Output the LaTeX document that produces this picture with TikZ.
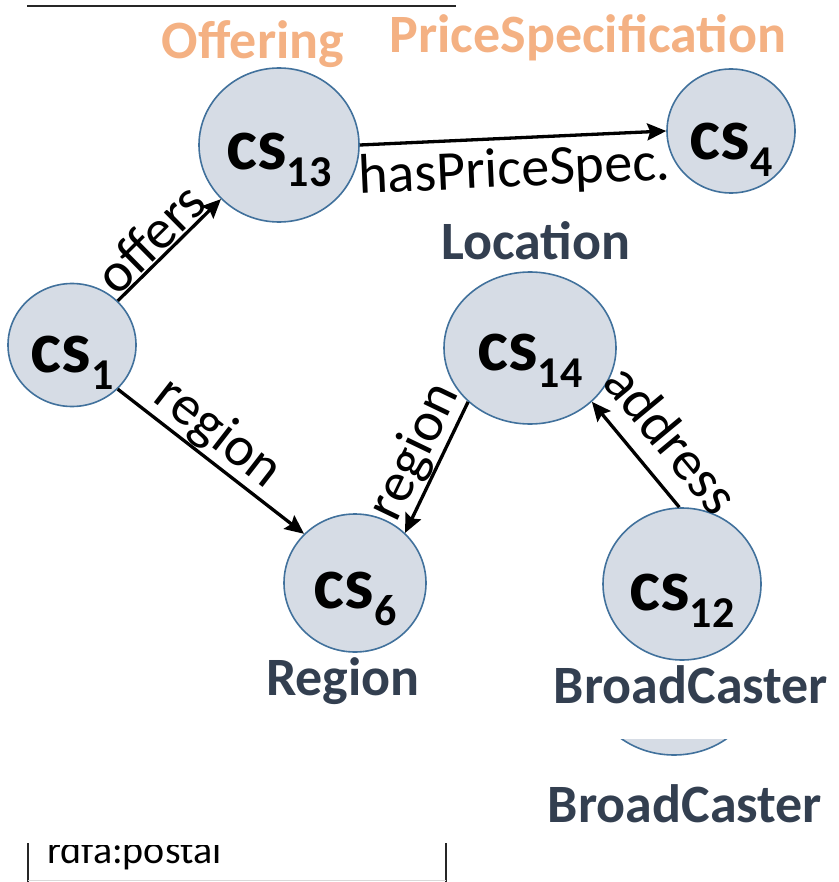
\documentclass[tikz,border=0pt]{standalone}
\usepackage{fontspec}
\setmainfont{Carlito}
\usetikzlibrary{shapes.geometric,arrows.meta}

\definecolor{nodefill}{HTML}{D6DCE5}
\definecolor{nodeline}{HTML}{41719C}
\definecolor{classorange}{HTML}{F4B183}
\definecolor{classdark}{HTML}{333F50}

\tikzset{
  csnode/.style={ellipse, draw=nodeline, line width=1.6pt, fill=nodefill, inner sep=0pt},
  cstext/.style={anchor=base, inner sep=0pt, font=\fontsize{74}{74}\selectfont\bfseries},
  classlabel/.style={anchor=base, inner sep=0pt, font=\fontsize{54}{54}\selectfont\bfseries},
  edgelabel/.style={inner sep=0pt, font=\fontsize{56}{56}\selectfont, sloped},
  rel/.style={line width=3.3pt, -{Stealth[length=19pt,width=17pt,inset=3pt]}}
}
\newcommand{\cssub}[1]{cs\raisebox{-17pt}{\fontsize{44}{44}\selectfont\bfseries #1}}

\begin{document}
\begin{tikzpicture}[x=1pt, y=-1pt]
\useasboundingbox (0,0) rectangle (838,882);

% header rule
\draw[line width=2pt, black!85] (27,6) -- (456,6);

% class nodes
\node[csnode, minimum width=128pt, minimum height=123pt] (cs1)  at (72,345) {};
\node[csnode, minimum width=160pt, minimum height=154pt] (cs13) at (279,145) {};
\node[csnode, minimum width=128pt, minimum height=124pt] (cs4)  at (731,131) {};
\node[csnode, minimum width=172pt, minimum height=152pt] (cs14) at (530,348) {};
\node[csnode, minimum width=142pt, minimum height=138pt] (cs6)  at (355,583) {};
\node[csnode, minimum width=158pt, minimum height=152pt] (cs12) at (682,584) {};

% identifiers inside the circles
\node[cstext] (t1)  at (72,372)  {\cssub{1}};
\node[cstext] (t13) at (279,170) {\cssub{13}};
\node[cstext] (t4)  at (731,160) {\cssub{4}};
\node[cstext] (t14) at (530,370) {\cssub{14}};
\node[cstext] (t6)  at (355,608) {\cssub{6}};
\node[cstext] (t12) at (682,610) {\cssub{12}};

% class names
\node[classlabel, text=classorange] (lOffering) at (253,59)  {Offering};
\node[classlabel, text=classorange] (lPrice)    at (588,53)  {PriceSpecification};
\node[classlabel, text=classdark]   (lLocation) at (536,259) {Location};
\node[classlabel, text=classdark]   (lRegion)   at (343,695) {Region};
\node[classlabel, text=classdark]   (lBroad)    at (691,703) {BroadCaster};

% relations
\draw[rel] (cs1.44) -- node[edgelabel, pos=0.46, above=1pt] (eOffers) {offers} (cs13.223);
\draw[rel] (cs13.0) -- node[edgelabel, below=8pt] (ePrice) {hasPriceSpec.} (cs4.180);
\draw[rel] (cs1.316) -- node[edgelabel, pos=0.45, above=0pt] (eRegion1) {region} (cs6.136);
\draw[rel] (cs14.221) -- node[edgelabel, pos=0.47, above=0pt] (eRegion2) {region} (cs6.45);
\draw[rel] (cs12.92) -- node[edgelabel, pos=0.42, above=17pt] (eAddress) {address} (cs14.319);

% second, partly hidden broadcaster
\begin{scope}
  \clip (560,739) rectangle (790,770);
  \node[csnode, minimum width=170pt, minimum height=152pt] (cs12b) at (674,679) {};
\end{scope}
\node[classlabel, text=classdark] (lBroad2) at (685,822) {BroadCaster};

% property box at the bottom
\draw[line width=2pt, black!85] (28,843) -- (28,882);
\draw[line width=2pt, black!85] (446,843) -- (446,882);
\draw[line width=1pt, black!15] (28,880) -- (446,880);
\begin{scope}
  \clip (30,845) rectangle (444,878);
  \node[anchor=base west, inner sep=0pt, font=\fontsize{40}{40}\selectfont] (postal) at (47,863) {rdfa:postal};
\end{scope}
\end{tikzpicture}
\end{document}
